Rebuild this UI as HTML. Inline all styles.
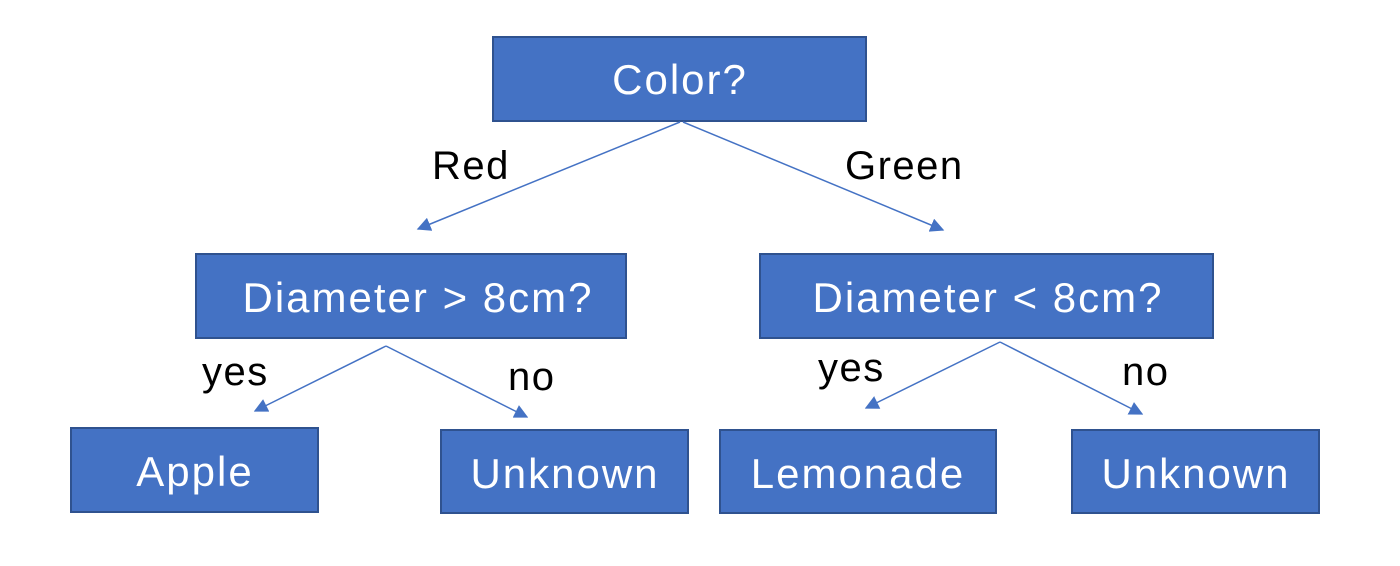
<!DOCTYPE html>
<html><head><style>
body{margin:0;background:#fff;}
svg{display:block}
.b{fill:#4472C4;stroke:#2F528F;stroke-width:2}
.t{fill:#fff;font-family:"Liberation Sans",sans-serif;font-size:42px;letter-spacing:2px;text-anchor:middle}
.l{fill:#000;font-family:"Liberation Sans",sans-serif;font-size:40px;letter-spacing:1.5px}
.c{stroke:#4472C4;stroke-width:1.5;fill:none}
</style></head><body>
<svg width="1400" height="566" xmlns="http://www.w3.org/2000/svg">
<defs>
<marker id="m" viewBox="0 0 10 10" markerWidth="14" markerHeight="14" refX="9" refY="5" orient="auto" markerUnits="userSpaceOnUse"><path d="M0,0 L10,5 L0,10 z" fill="#4472C4"/></marker></defs>
<rect class="b" x="493" y="37" width="373" height="84"/><text class="t" x="680" y="94">Color?</text>
<rect class="b" x="196" y="254" width="430" height="84"/><text class="t" x="418" y="312">Diameter &gt; 8cm?</text>
<rect class="b" x="760" y="254" width="453" height="84"/><text class="t" x="988" y="312">Diameter &lt; 8cm?</text>
<rect class="b" x="71" y="428" width="247" height="84"/><text class="t" x="195" y="486">Apple</text>
<rect class="b" x="441" y="430" width="247" height="83"/><text class="t" x="565" y="488">Unknown</text>
<rect class="b" x="720" y="430" width="276" height="83"/><text class="t" x="858" y="488">Lemonade</text>
<rect class="b" x="1072" y="430" width="247" height="83"/><text class="t" x="1196" y="488">Unknown</text>
<line class="c" x1="680" y1="122" x2="418" y2="229" marker-end="url(#m)"/>
<line class="c" x1="683" y1="122" x2="943" y2="230" marker-end="url(#m)"/>
<line class="c" x1="386" y1="346" x2="255" y2="411" marker-end="url(#m)"/>
<line class="c" x1="386" y1="346" x2="527" y2="417" marker-end="url(#m)"/>
<line class="c" x1="1000" y1="342" x2="866" y2="408" marker-end="url(#m)"/>
<line class="c" x1="1000" y1="342" x2="1142" y2="414" marker-end="url(#m)"/>
<text class="l" x="432" y="179">Red</text>
<text class="l" x="845" y="179">Green</text>
<text class="l" x="202" y="385">yes</text>
<text class="l" x="508" y="390">no</text>
<text class="l" x="818" y="381">yes</text>
<text class="l" x="1122" y="385">no</text>
</svg>
</body></html>
